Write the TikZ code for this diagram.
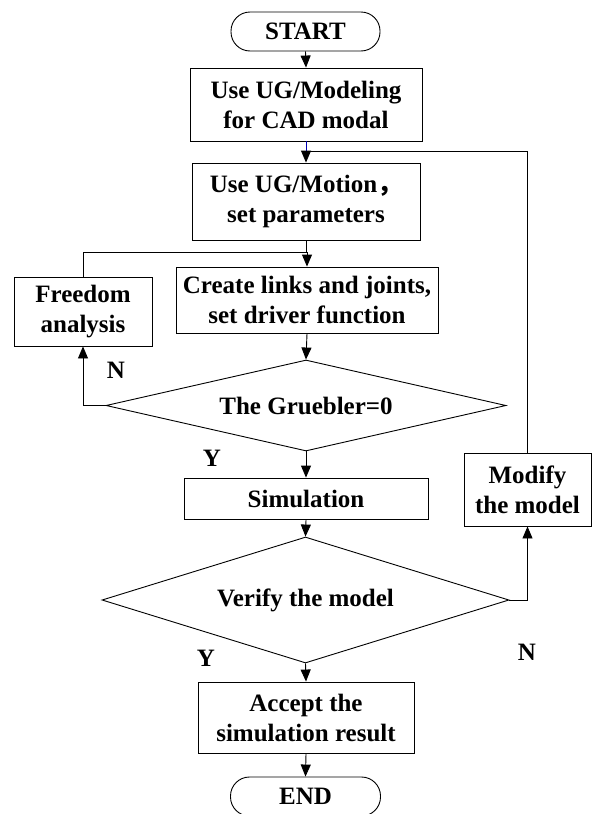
\documentclass[tikz,border=0pt]{standalone}
\usepackage{fontspec}
\setmainfont{Liberation Serif}
\newfontfamily\cjk{Noto Sans CJK SC}
\usetikzlibrary{shapes.geometric,arrows.meta}
\begin{document}
\begin{tikzpicture}[x=1pt,y=-1pt,
  every node/.style={font=\fontsize{25}{30}\selectfont\bfseries, inner sep=0pt, align=center},
  box/.style={draw, line width=0.9pt, rectangle},
  term/.style={draw, line width=0.9pt, rectangle, rounded corners=19pt},
  dia/.style={draw, line width=0.9pt, diamond},
  conn/.style={line width=0.9pt},
  arr/.style={line width=0.9pt, -{Triangle[length=12pt,width=10pt]}}
]
\useasboundingbox (0,0) rectangle (592,814);

\node[term, minimum width=149pt, minimum height=39pt] (start) at (305.5,31.5) {START};
\node[box, minimum width=232pt, minimum height=73pt] (b1) at (306,104.5) {Use UG/Modeling\\for CAD modal};
\node[box, minimum width=228pt, minimum height=77pt] (b2) at (306,201.5) {Use UG/Motion{\cjk\bfseries ，}\\ set parameters};
\node[box, minimum width=262pt, minimum height=66pt] (b3) at (307,300) {Create links and joints,\\set driver function};
\node[box, minimum width=138pt, minimum height=69pt] (fr) at (83,311.5) {Freedom\\analysis};
\node[dia, minimum width=400pt, minimum height=91pt, aspect=4.4] (d1) at (306,405.5) {The Gruebler=0};
\node[box, minimum width=244pt, minimum height=41pt] (sim) at (306,498.5) {Simulation};
\node[dia, minimum width=407pt, minimum height=126pt, aspect=3.2] (d2) at (305.5,600) {Verify the model};
\node[box, minimum width=127pt, minimum height=73pt] (mod) at (527.5,489.5) {Modify\\the model};
\node[box, minimum width=216pt, minimum height=71pt] (acc) at (306,717.5) {Accept the\\simulation result};
\node[term, minimum width=150pt, minimum height=39pt] (end) at (305.5,796.5) {END};

\node (n1) at (116,370) {N};
\node (y1) at (212,458) {Y};
\node (y2) at (206,658) {Y};
\node (n2) at (527,652) {N};

\coordinate (fb) at (306,151);
\coordinate (j2) at (307,252);

\draw[arr] (start.south) -- (b1.north);
\draw[conn, blue!70!black] (b1.south) -- (fb);
\draw[arr] (fb) -- (b2.north);
\draw[conn] (mod.north) |- (fb);
\draw[conn] (b2.south) -- (b2.south |- j2) -- (j2);
\draw[conn] (fr.north) |- (j2);
\draw[arr] (j2) -- (b3.north);
\draw[arr] (b3.south) -- (d1.north);
\draw[arr] (d1.west) -| (fr.south);
\draw[arr] (d1.south) -- (sim.north);
\draw[arr] (sim.south) -- (d2.north);
\draw[arr] (d2.east) -| (mod.south);
\draw[arr] (d2.south) -- (acc.north);
\draw[arr] (acc.south) -- (end.north);
\end{tikzpicture}
\end{document}
